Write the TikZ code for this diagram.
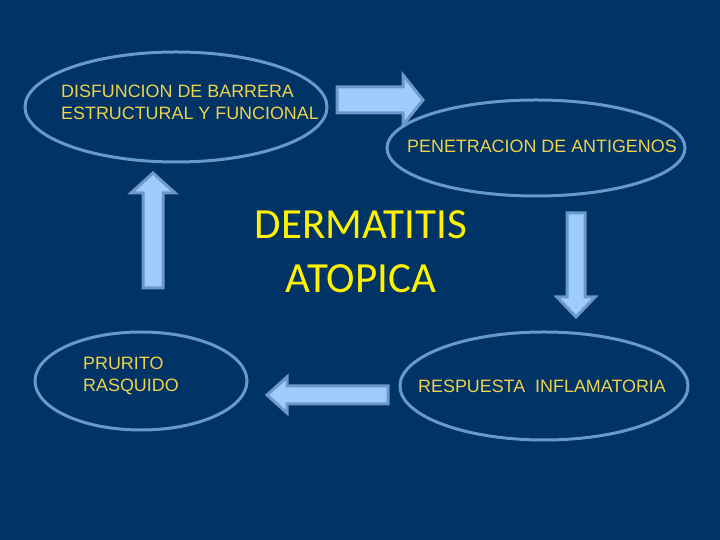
\documentclass[tikz,border=0pt]{standalone}
\usepackage{fontspec}
\setmainfont{Liberation Sans}
\newfontfamily\calibri{Carlito}
\usepackage{tikz}
\usetikzlibrary{shapes.geometric}
\definecolor{slidebg}{HTML}{003366}
\definecolor{ovalline}{HTML}{6699CC}
\definecolor{arrowfill}{HTML}{9ECCFA}
\definecolor{arrowline}{HTML}{6E98C8}
\definecolor{labelgold}{HTML}{F0D24A}
\tikzset{
  oval/.style={ellipse, draw=ovalline, line width=3pt, inner sep=0pt},
  ovaltext/.style={anchor=base west, inner sep=0pt, align=left, text=labelgold,
    font=\fontsize{17.9}{22}\selectfont},
  blockarrow/.style={fill=arrowfill, draw=arrowline, line width=3pt, line join=miter},
}
% #1,#2 tail, #3 angle, #4 length, #5 half body, #6 half head
\newcommand{\barrow}[6]{ \draw[blockarrow, shift={(#1,#2)}, rotate=#3] (0,-#5) -- (#4-20,-#5) -- (#4-20,-#6) -- (#4,0) -- (#4-20,#6) -- (#4-20,#5) -- (0,#5) -- cycle;}
\begin{document}
\begin{tikzpicture}[x=1pt,y=1pt]
\fill[slidebg] (0,0) rectangle (720,540);
\useasboundingbox (0,0) rectangle (720,540);
%
\node[oval, minimum width=302pt, minimum height=110pt] (barrera) at (176,433) {};
\node[oval, minimum width=298pt, minimum height=96pt] (antigenos) at (536,392) {};
\node[oval, minimum width=288pt, minimum height=108pt] (respuesta) at (544,154) {};
\node[oval, minimum width=212pt, minimum height=98pt] (prurito) at (141,159) {};
%
\node[ovaltext] (barreraT) at (61,420) {DISFUNCION DE BARRERA\\ESTRUCTURAL Y FUNCIONAL};
\node[ovaltext] (antigenosT) at (407,387) {PENETRACION DE ANTIGENOS};
\node[ovaltext] (respuestaT) at (418,147) {RESPUESTA\ \ INFLAMATORIA};
\node[ovaltext] (pruritoT) at (83,148) {PRURITO\\RASQUIDO};
%
\node[align=center, inner sep=0pt, text=yellow, font=\calibri\fontsize{43}{54}\selectfont] (dermatitis) at (361,288) {DERMATITIS\\ATOPICA};
%
\barrow{337}{440}{0}{86}{13}{25}
\barrow{576}{327}{-90}{104}{9}{19}
\barrow{388}{145}{180}{121}{9}{18}
\barrow{153}{252}{90}{115}{10}{22}
\end{tikzpicture}
\end{document}
